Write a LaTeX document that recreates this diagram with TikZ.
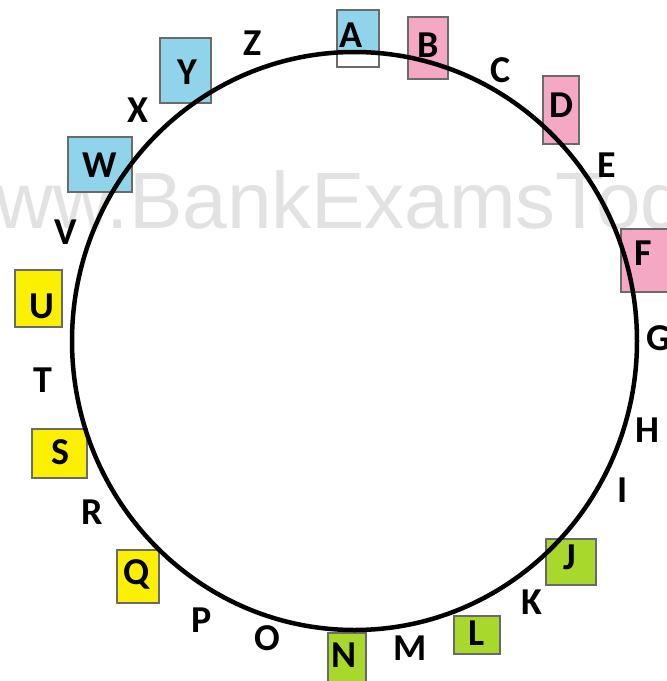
\documentclass[tikz,border=0pt]{standalone}
\usepackage{fontspec}
\setmainfont{Carlito}
\newfontfamily\wmfont{Liberation Sans}
\definecolor{bxblue}{HTML}{8FD4EA}
\definecolor{bxpink}{HTML}{F4A8C3}
\definecolor{bxyellow}{HTML}{FAF000}
\definecolor{bxgreen}{HTML}{A8D82C}
\definecolor{bxedge}{HTML}{6A6A6A}
\definecolor{wmgray}{HTML}{E2E2E2}
\begin{document}
\begin{tikzpicture}[x=1pt,y=-1pt,
  lt/.style={font=\fontsize{38}{38}\selectfont\bfseries, anchor=base, inner sep=0pt, text=black},
  bx/.style={draw=bxedge, line width=1.8pt},
  ring/.style={line width=4.5pt, draw=black}]
\useasboundingbox (0,0) rectangle (667,681);
\begin{scope}
\clip (0,0) rectangle (667,681);
% watermark
\node[font=\wmfont\fontsize{80}{80}\selectfont, text=wmgray, anchor=base east, inner sep=0pt] (wm1) at (129,228) {www.};
\node[font=\wmfont\fontsize{80}{80}\selectfont, text=wmgray, anchor=base west, inner sep=0pt] (wm2) at (129,228) {BankExamsToday.com};
% boxes
\path[bx, fill=white] (337,10) rectangle (379,67);
\fill[bxblue] (338,11) rectangle (378,52);
\node[inner sep=0pt] (boxA) at (358,38) {};
\draw[bx, fill=bxpink] (408,17) rectangle (448,79) node[pos=0.5] (boxB) {};
\draw[bx, fill=bxpink] (543,76) rectangle (579,144) node[pos=0.5] (boxD) {};
\draw[bx, fill=bxpink] (621,229) rectangle (675,292) node[pos=0.5] (boxF) {};
\draw[bx, fill=bxgreen] (546,539) rectangle (596,585) node[pos=0.5] (boxJ) {};
\draw[bx, fill=bxgreen] (454,616) rectangle (500,654) node[pos=0.5] (boxL) {};
\draw[bx, fill=bxgreen] (328,633) rectangle (366,683) node[pos=0.5] (boxN) {};
\draw[bx, fill=bxyellow] (117,550) rectangle (159,603) node[pos=0.5] (boxQ) {};
\draw[bx, fill=bxyellow] (32,429) rectangle (87,478) node[pos=0.5] (boxS) {};
\draw[bx, fill=bxyellow] (15,270) rectangle (62,327) node[pos=0.5] (boxU) {};
\draw[bx, fill=bxblue] (68,137) rectangle (132,192) node[pos=0.5] (boxW) {};
\draw[bx, fill=bxblue] (160,38) rectangle (211,103) node[pos=0.5] (boxY) {};
% circle
\draw[ring] (354.5,341) ellipse [x radius=282.5pt, y radius=289pt];
% boxed letters
\node[lt] (A) at (351,47) {A};
\node[lt] (B) at (428,57) {B};
\node[lt] (D) at (561,117) {D};
\node[lt] (F) at (643,265) {F};
\node[lt] (J) at (570,569) {J};
\node[lt] (L) at (477,645) {L};
\node[lt] (N) at (344,667) {N};
\node[lt] (Q) at (137,584) {Q};
\node[lt] (S) at (60,464) {S};
\node[lt] (U) at (42,318) {U};
\node[lt] (W) at (100,177) {W};
\node[lt] (Y) at (187,84) {Y};
% plain letters
\node[lt] (C) at (501,82) {C};
\node[lt] (E) at (607,177) {E};
\node[lt] (G) at (659,350) {G};
\node[lt] (H) at (647,442) {H};
\node[lt] (I) at (623,502) {I};
\node[lt] (K) at (532,614) {K};
\node[lt] (M) at (410,660) {M};
\node[lt] (O) at (267,650) {O};
\node[lt] (P) at (202,632) {P};
\node[lt] (R) at (92,524) {R};
\node[lt] (T) at (43,392) {T};
\node[lt] (V) at (66,244) {V};
\node[lt] (X) at (138,122) {X};
\node[lt] (Z) at (253,55) {Z};
\end{scope}
\end{tikzpicture}
\end{document}
